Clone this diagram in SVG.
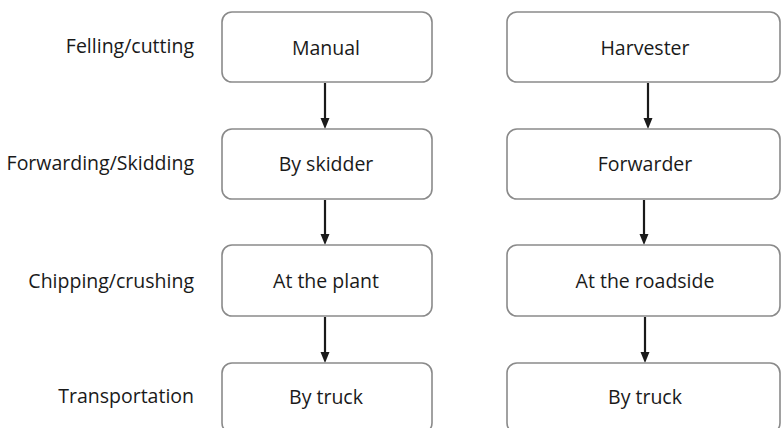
<svg xmlns="http://www.w3.org/2000/svg" width="782" height="428" viewBox="0 0 782 428">
<style>
.box{fill:#fff;stroke:#8a8a8a;stroke-width:1.6}
.t{font-family:"Open Sans","Noto Sans",sans-serif;font-size:19.5px;fill:#1a1a1a;text-anchor:middle}
.lbl{font-family:"Open Sans","Noto Sans",sans-serif;font-size:19.5px;fill:#1a1a1a;text-anchor:end}
.ln{stroke:#1a1a1a;stroke-width:2.2}
.hd{fill:#1a1a1a}
</style>
<rect width="782" height="428" fill="#fff"/>
<g id="labels">
<text class="lbl" x="194" y="53">Felling/cutting</text>
<text class="lbl" x="194" y="170">Forwarding/Skidding</text>
<text class="lbl" x="194" y="288">Chipping/crushing</text>
<text class="lbl" x="194" y="403">Transportation</text>
</g>
<g id="connectors">
<line class="ln" x1="325" y1="83" x2="325" y2="120"/>
<path class="hd" d="M320.5,118 L329.5,118 L325,129 Z"/>
<line class="ln" x1="325" y1="200" x2="325" y2="236"/>
<path class="hd" d="M320.5,234 L329.5,234 L325,245 Z"/>
<line class="ln" x1="325" y1="317" x2="325" y2="354"/>
<path class="hd" d="M320.5,352 L329.5,352 L325,363 Z"/>
<line class="ln" x1="648" y1="83" x2="648" y2="120"/>
<path class="hd" d="M643.5,118 L652.5,118 L648,129 Z"/>
<line class="ln" x1="644" y1="200" x2="644" y2="236"/>
<path class="hd" d="M639.5,234 L648.5,234 L644,245 Z"/>
<line class="ln" x1="645" y1="317" x2="645" y2="354"/>
<path class="hd" d="M640.5,352 L649.5,352 L645,363 Z"/>
</g>
<g id="n-manual"><rect class="box" x="222" y="12" width="210" height="70" rx="10"/><text class="t" x="326" y="55">Manual</text></g>
<g id="n-skidder"><rect class="box" x="222" y="129" width="210" height="70" rx="10"/><text class="t" x="326" y="171">By skidder</text></g>
<g id="n-plant"><rect class="box" x="222" y="245" width="210" height="71" rx="10"/><text class="t" x="326" y="288">At the plant</text></g>
<g id="n-truck1"><rect class="box" x="222" y="363" width="210" height="70" rx="10"/><text class="t" x="326" y="404">By truck</text></g>
<g id="n-harvester"><rect class="box" x="507" y="12" width="273" height="70" rx="10"/><text class="t" x="645" y="55">Harvester</text></g>
<g id="n-forwarder"><rect class="box" x="507" y="129" width="273" height="70" rx="10"/><text class="t" x="645" y="171">Forwarder</text></g>
<g id="n-roadside"><rect class="box" x="507" y="245" width="273" height="71" rx="10"/><text class="t" x="645" y="288">At the roadside</text></g>
<g id="n-truck2"><rect class="box" x="507" y="363" width="273" height="70" rx="10"/><text class="t" x="645" y="404">By truck</text></g>
</svg>
